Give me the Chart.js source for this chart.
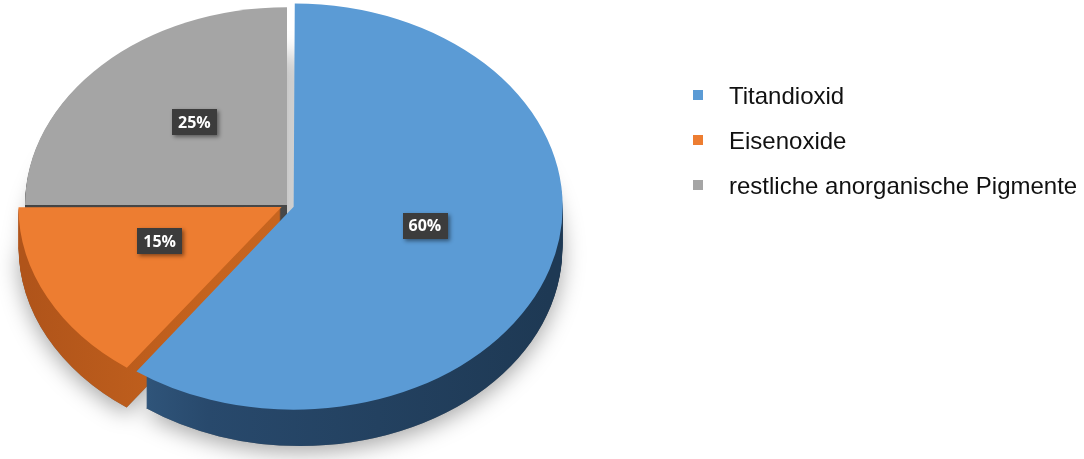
<!DOCTYPE html>
<html>
<head>
<meta charset="utf-8">
<script src="https://cdn.jsdelivr.net/npm/chart.js@4"></script>
<style>
  html, body { margin: 0; padding: 0; background: #fff; }
  #wrap { width: 1084px; height: 459px; position: relative; }
</style>
</head>
<body>
<div id="wrap"><canvas id="pieChart"></canvas></div>
<script>
const categories = ['Titandioxid', 'Eisenoxide', 'restliche anorganische Pigmente'];
const shares = [60, 15, 25];
const explode = [28, 24, 0];
const topColors = ['#5b9bd5', '#ed7d31', '#a5a5a5'];
const sideColors = [
    ['#3d6a94', '#28496c', '#1e3954'],
    ['#b0541a', '#c5631e', '#cf6a22'],
    ['#444444', '#474747', '#4a4a4a']
];

// fake 3d: squash the pie vertically and stack the side walls under it
const tilt = 0.755;
const depth = 40;
const labelLift = 13;

const arcGeometry = (el) => {
    const p = el.getProps(['x', 'y', 'startAngle', 'endAngle', 'outerRadius', 'circumference']);
    const offset = (el.options.offset || 0) / 4;
    const half = (p.startAngle + p.endAngle) / 2;
    const fix = 1 - Math.sin(Math.min(Math.PI, p.circumference || 0));
    const shift = offset * (1 + fix);
    return {
        x: p.x + Math.cos(half) * shift,
        y: p.y + Math.sin(half) * shift,
        r: p.outerRadius,
        start: p.startAngle,
        end: p.endAngle
    };
};

const addSector = (ctx, g, dy) => {
    ctx.moveTo(g.x, g.y + dy);
    ctx.arc(g.x, g.y + dy, g.r, g.start, g.end);
    ctx.closePath();
};

const tiltPlugin = {
    id: 'tilt',
    beforeDatasetsDraw(chart) {
        const ctx = chart.ctx;
        const area = chart.chartArea;
        const cx = (area.left + area.right) / 2;
        const cy = (area.top + area.bottom) / 2;
        ctx.save();
        ctx.translate(cx, cy);
        ctx.scale(1, tilt);
        ctx.translate(-cx, -cy);

        const arcs = chart.getDatasetMeta(0).data;
        const geos = arcs.map(arcGeometry);

        // soft shadow under the whole pie
        ctx.save();
        ctx.shadowColor = 'rgba(0,0,0,0.35)';
        ctx.shadowBlur = 22;
        ctx.shadowOffsetY = 6;
        ctx.fillStyle = '#777';
        ctx.beginPath();
        geos.forEach(g => addSector(ctx, g, depth / tilt));
        ctx.fill();
        ctx.restore();

        const fills = geos.map((g, i) => {
            const grad = ctx.createLinearGradient(cx - g.r, 0, cx + g.r, 0);
            grad.addColorStop(0, sideColors[i][0]);
            grad.addColorStop(0.35, sideColors[i][1]);
            grad.addColorStop(1, sideColors[i][2]);
            return grad;
        });

        for (let d = depth; d >= 1; d--) {
            geos.forEach((g, i) => {
                ctx.fillStyle = fills[i];
                ctx.beginPath();
                addSector(ctx, g, d / tilt);
                ctx.fill();
            });
        }
    },
    afterDatasetsDraw(chart) {
        chart.ctx.restore();
    },
    afterDraw(chart) {
        const ctx = chart.ctx;
        const area = chart.chartArea;
        const cy = (area.top + area.bottom) / 2;
        const arcs = chart.getDatasetMeta(0).data;

        // value labels in dark boxes
        ctx.save();
        ctx.font = 'bold 16px "Open Sans"';
        ctx.textAlign = 'center';
        ctx.textBaseline = 'middle';
        arcs.forEach((el, i) => {
            const pos = el.tooltipPosition();
            const x = pos.x;
            const y = cy + (pos.y - cy) * tilt - labelLift;
            const text = shares[i] + '%';
            const w = ctx.measureText(text).width + 12;
            const h = 26;
            ctx.save();
            ctx.shadowColor = 'rgba(0,0,0,0.45)';
            ctx.shadowBlur = 4;
            ctx.shadowOffsetX = 2;
            ctx.shadowOffsetY = 2;
            ctx.fillStyle = '#3c3c3c';
            ctx.fillRect(Math.round(x - w / 2), Math.round(y - h / 2), Math.round(w), h);
            ctx.restore();
            ctx.fillStyle = '#ffffff';
            ctx.fillText(text, x, y + 1);
        });
        ctx.restore();

        // legend
        const legendLeft = 693;
        const legendTop = 95;
        const legendStep = 45;
        ctx.save();
        ctx.font = '24px "Liberation Sans", Arial, sans-serif';
        ctx.textAlign = 'left';
        ctx.textBaseline = 'middle';
        categories.forEach((name, i) => {
            const y = legendTop + i * legendStep;
            ctx.fillStyle = topColors[i];
            ctx.fillRect(legendLeft, y - 5, 10, 10);
            ctx.fillStyle = '#111111';
            ctx.fillText(name, legendLeft + 36, y + 2);
        });
        ctx.restore();
    }
};

new Chart(document.getElementById('pieChart'), {
    type: 'pie',
    data: {
        labels: categories,
        datasets: [{
            data: shares,
            backgroundColor: topColors,
            borderWidth: 0,
            offset: explode,
            radius: 262,
            clip: false
        }]
    },
    options: {
        responsive: true,
        maintainAspectRatio: false,
        animation: false,
        events: [],
        layout: { padding: { left: 0, top: 0, right: 510, bottom: 49 } },
        plugins: {
            legend: { display: false },
            tooltip: { enabled: false }
        }
    },
    plugins: [tiltPlugin]
});
</script>
</body>
</html>
